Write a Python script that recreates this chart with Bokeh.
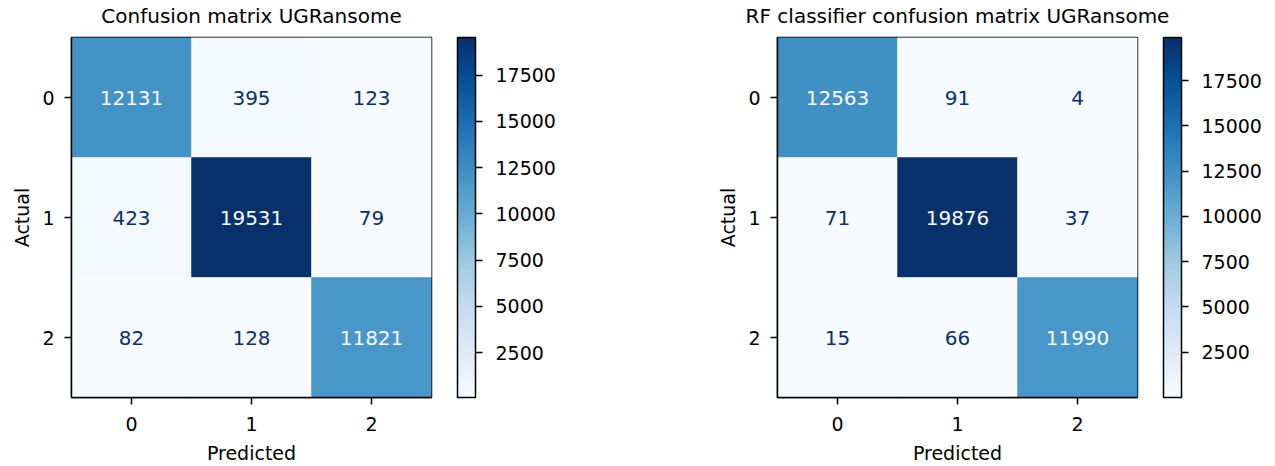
from bokeh.plotting import figure
from bokeh.models import ColumnDataSource, LinearColorMapper, ColorBar, FixedTicker, Range1d, Title
from bokeh.layouts import row
from bokeh.palettes import Blues256
from bokeh.core.properties import value
from bokeh.embed import file_html
from bokeh.resources import INLINE

# ---- data ----
class_labels = ["0", "1", "2"]
left_title = "Confusion matrix UGRansome"
left_counts = [[12131, 395, 123],
               [423, 19531, 79],
               [82, 128, 11821]]
right_title = "RF classifier confusion matrix UGRansome"
right_counts = [[12563, 91, 4],
                [71, 19876, 37],
                [15, 66, 11990]]
cbar_ticks = [2500, 5000, 7500, 10000, 12500, 15000, 17500]
x_label = "Predicted"
y_label = "Actual"

FONT = "DejaVu Sans"
palette = list(reversed(Blues256))  # light -> dark (matplotlib "Blues")


def make_matrix(title, counts, border_left, border_right):
    flat = [v for r in counts for v in r]
    lo, hi = min(flat), max(flat)
    mapper = LinearColorMapper(palette=palette, low=lo, high=hi)
    thresh = (lo + hi) / 2.0
    xs, ys, vals, txt, tcol = [], [], [], [], []
    for i, r in enumerate(counts):
        for j, v in enumerate(r):
            xs.append(j)
            ys.append(i)
            vals.append(v)
            txt.append(str(v))
            tcol.append("#f7fbff" if v >= thresh else "#08306b")
    src = ColumnDataSource(dict(x=xs, y=ys, v=vals, t=txt, c=tcol))

    p = figure(frame_width=360, frame_height=360,
               min_border_left=border_left, min_border_right=border_right,
               min_border_top=37, min_border_bottom=67,
               x_range=Range1d(-0.5, 2.5), y_range=Range1d(2.5, -0.5),
               output_backend="svg", toolbar_location=None)

    # small gap between frame and title, then the title itself (outer)
    p.add_layout(Title(text=" ", text_font_size="1px", standoff=7,
                       text_color="white"), "above")
    p.add_layout(Title(text=title, text_font=FONT, text_font_size="20px",
                       text_font_style="normal", align="center",
                       vertical_align="bottom", standoff=0,
                       text_color="black"), "above")

    p.rect(x="x", y="y", width=1, height=1, source=src,
           fill_color={"field": "v", "transform": mapper},
           line_color={"field": "v", "transform": mapper}, line_width=0.5)
    p.text(x="x", y="y", text="t", text_color="c", source=src,
           text_align="center", text_baseline="middle",
           text_font=value(FONT), text_font_size="20px")

    p.xgrid.grid_line_color = None
    p.ygrid.grid_line_color = None
    p.outline_line_color = "black"
    p.outline_line_width = 1.5
    p.background_fill_color = "white"
    p.border_fill_color = "white"

    for ax in (p.xaxis[0], p.yaxis[0]):
        ax.ticker = FixedTicker(ticks=[0, 1, 2])
        ax.major_label_overrides = {i: lab for i, lab in enumerate(class_labels)}
        ax.minor_tick_line_color = None
        ax.major_tick_in = 0
        ax.major_tick_out = 7
        ax.major_tick_line_width = 1.5
        ax.major_tick_line_color = "black"
        ax.axis_line_color = "black"
        ax.axis_line_width = 1.5
        ax.major_label_text_font = FONT
        ax.major_label_text_font_size = "19px"
        ax.major_label_text_color = "black"
        ax.axis_label_text_font = FONT
        ax.axis_label_text_font_size = "19px"
        ax.axis_label_text_font_style = "normal"
        ax.axis_label_text_color = "black"
    p.xaxis.axis_label = x_label
    p.yaxis.axis_label = y_label
    p.xaxis.major_label_standoff = 12
    p.yaxis.major_label_standoff = 10
    p.xaxis.axis_label_standoff = 8
    p.yaxis.axis_label_standoff = 6
    p.yaxis.major_label_orientation = "horizontal"

    cb = ColorBar(color_mapper=mapper, ticker=FixedTicker(ticks=cbar_ticks),
                  width=18, height=360, margin=0, padding=0,
                  location=(386, 0),
                  major_tick_in=0, major_tick_out=7,
                  major_tick_line_color="black", major_tick_line_width=1.5,
                  bar_line_color="black", bar_line_width=1.5,
                  label_standoff=13,
                  major_label_text_font=FONT, major_label_text_font_size="19px",
                  major_label_text_color="black",
                  background_fill_color=None, border_line_color=None)
    p.add_layout(cb, "center")
    return p


p1 = make_matrix(left_title, left_counts, 71, 282)
p2 = make_matrix(right_title, right_counts, 64, 128)
layout = row(p1, p2, spacing=0)

open("out.html", "w").write(file_html(layout, INLINE))
